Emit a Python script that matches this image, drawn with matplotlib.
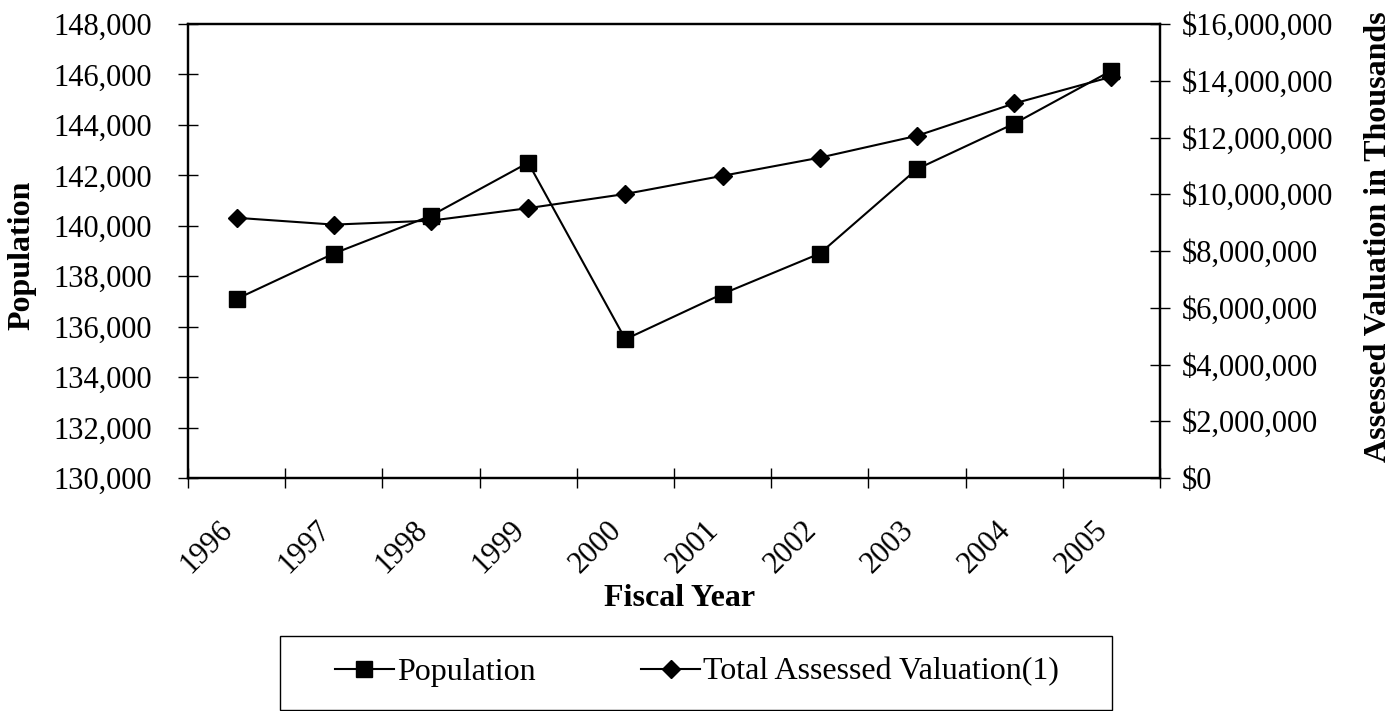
import matplotlib as mpl

mpl.use("Agg")

import matplotlib.pyplot as plt
import numpy as np
from matplotlib.patches import Rectangle
from matplotlib.ticker import FixedLocator, FuncFormatter
from matplotlib.transforms import ScaledTranslation

plt.rcParams["font.family"] = ["Liberation Serif", "DejaVu Serif"]

# values
years = ["1996", "1997", "1998", "1999", "2000", "2001", "2002", "2003", "2004", "2005"]
population = [137100, 138900, 140400, 142500, 135500, 137300, 138900, 142250, 144050, 146150]
valuation = [9170000, 8930000, 9070000, 9510000, 10010000, 10650000, 11290000, 12060000, 13200000, 14140000]

pop_ticks = list(range(130000, 148001, 2000))
val_ticks = list(range(0, 16000001, 2000000))

FS = 22
FS_TITLE = 23

fig = plt.figure(figsize=(14, 7.11), dpi=100)
ax = fig.add_axes([188 / 1400, 1 - 478 / 711, 972 / 1400, 454 / 711])
ax2 = ax.twinx()

x = np.arange(len(years))
(l_pop,) = ax.plot(x, population, color="black", lw=1.5, marker="s", ms=11, label="Population", zorder=3)
(l_val,) = ax2.plot(x, valuation, color="black", lw=1.5, marker="D", ms=8.8, label="Total Assessed Valuation(1)", zorder=3)

ax.set_xlim(-0.5, len(years) - 0.5)
ax.set_ylim(pop_ticks[0], pop_ticks[-1])
ax2.set_ylim(val_ticks[0], val_ticks[-1])

ax.set_yticks(pop_ticks)
ax.yaxis.set_major_formatter(FuncFormatter(lambda v, _: f"{v:,.0f}"))
ax2.set_yticks(val_ticks)
ax2.yaxis.set_major_formatter(FuncFormatter(lambda v, _: f"${v:,.0f}"))

# category labels in the middle, tick marks on the boundaries
ax.set_xticks(x, years)
ax.xaxis.set_minor_locator(FixedLocator(np.arange(-0.5, len(years), 1.0)))
ax.tick_params(axis="x", which="major", length=0, pad=34.6, labelsize=FS)
ax.tick_params(axis="x", which="minor", direction="inout", length=14, width=1.0)
shift = ScaledTranslation(-8 / 100, 0, fig.dpi_scale_trans)
for lab in ax.get_xticklabels():
    lab.set_rotation(45)
    lab.set_ha("right")
    lab.set_va("center")
    lab.set_rotation_mode("anchor")
    lab.set_transform(lab.get_transform() + shift)

ax.tick_params(axis="y", direction="inout", length=14, width=1.0, pad=19, labelsize=FS)
ax2.tick_params(axis="y", direction="inout", length=14, width=1.0, pad=8.8, labelsize=FS)

for a in (ax, ax2):
    for spine in a.spines.values():
        spine.set_linewidth(1.6)
        spine.set_color("black")

ax.set_ylabel("Population", fontsize=FS_TITLE, fontweight="bold", va="center")
ax.yaxis.set_label_coords((22 - 188) / 972, (478 - 255) / 454)
ax2.set_ylabel("Assessed Valuation in Thousands", fontsize=FS_TITLE, fontweight="bold", va="center", rotation=90)
ax2.yaxis.set_label_coords((1378 - 188) / 972, (478 - 237) / 454)
ax.set_xlabel("Fiscal Year", fontsize=FS_TITLE, fontweight="bold", va="center")
ax.xaxis.set_label_coords((680 - 188) / 972, (478 - 598) / 454)

fig.legend(
    handles=[l_pop, l_val],
    loc="center",
    bbox_to_anchor=(697 / 1400, 1 - 672 / 711),
    ncol=2,
    frameon=False,
    fontsize=FS_TITLE,
    handlelength=1.85,
    handletextpad=0.1,
    columnspacing=3.3,
)
fig.patches.append(
    Rectangle((280 / 1400, 1 / 711), 832 / 1400, 74 / 711, transform=fig.transFigure,
              fill=False, edgecolor="black", lw=1.0)
)

fig.savefig("out.png", dpi=100, facecolor="white")
